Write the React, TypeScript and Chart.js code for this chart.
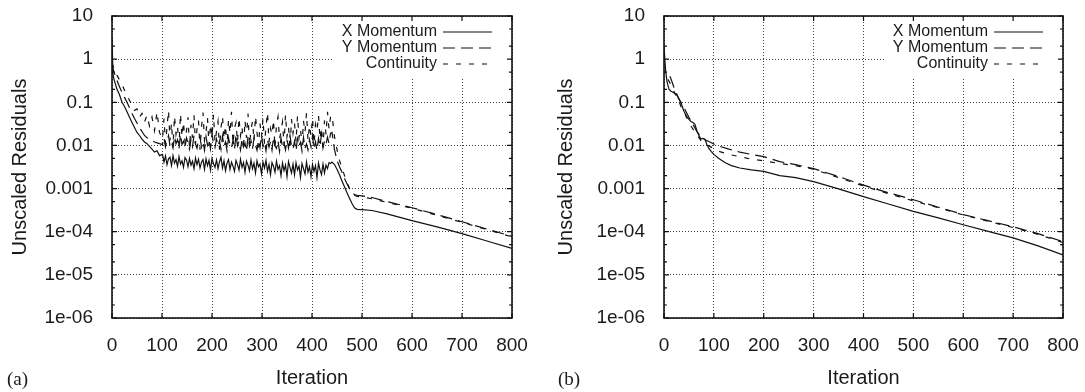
import React, { useEffect, useRef } from "react";
import { Chart, registerables } from "chart.js";

Chart.register(...registerables);

// ---------- axis definitions ----------
const xTickValues = [0, 100, 200, 300, 400, 500, 600, 700, 800];
const yTickValues = [1e-6, 1e-5, 1e-4, 1e-3, 1e-2, 1e-1, 1, 10];
const yTickLabels = ["1e-06", "1e-05", "1e-04", "0.001", "0.01", "0.1", "1", "10"];
const yMinorFactors = [2, 5];
const seriesNames = ["X Momentum", "Y Momentum", "Continuity"];
const xTitle = "Iteration";
const yTitle = "Unscaled Residuals";
const panelLabels = ["(a)", "(b)"];

// ---------- panel (a) data ----------
const iterA = [
  0, 2, 4, 7, 10, 15, 20, 25, 30, 35, 40, 45, 50, 55, 60, 65, 70, 75, 80, 85, 90, 95,
  101, 104, 107, 110, 113, 116, 119, 122, 125, 128,
  131, 134, 137, 140, 143, 146, 149, 152, 155, 158,
  161, 164, 167, 170, 173, 176, 179, 182, 185, 188,
  191, 194, 197, 200, 203, 206, 209, 212, 215, 218,
  221, 224, 227, 230, 233, 236, 239, 242, 245, 248,
  251, 254, 257, 260, 263, 266, 269, 272, 275, 278,
  281, 284, 287, 290, 293, 296, 299, 302, 305, 308,
  311, 314, 317, 320, 323, 326, 329, 332, 335, 338,
  341, 344, 347, 350, 353, 356, 359, 362, 365, 368,
  371, 374, 377, 380, 383, 386, 389, 392, 395, 398,
  401, 404, 407, 410, 413, 416, 419, 422, 425, 428,
  431, 434, 437, 440,
  445, 450, 455, 460, 465, 470, 475, 480, 485, 490, 500, 520, 550, 600, 650, 700, 750, 800,
];
const xMomA = [
  3.0, 0.45, 0.34, 0.26, 0.2, 0.15, 0.1, 0.08, 0.06, 0.045, 0.034, 0.026, 0.02, 0.017, 0.014, 0.012, 0.011, 0.0095, 0.0082, 0.007, 0.0075, 0.0058,
  0.0062, 0.0041, 0.0057, 0.0036, 0.0049, 0.0053, 0.0034, 0.0058, 0.0039, 0.0047,
  0.0033, 0.0055, 0.0037, 0.0044, 0.0031, 0.0052, 0.0046, 0.0032, 0.005, 0.0035,
  0.0043, 0.0029, 0.0051, 0.0036, 0.0048, 0.003, 0.0041, 0.0047, 0.0028, 0.0049,
  0.0034, 0.0045, 0.0027, 0.005, 0.0038, 0.0031, 0.0046, 0.0029, 0.0042, 0.0053,
  0.003, 0.0044, 0.0026, 0.0039, 0.0047, 0.0028, 0.0041, 0.0033, 0.0025, 0.0045,
  0.0036, 0.0027, 0.0048, 0.0031, 0.004, 0.0024, 0.0043, 0.0035, 0.0026, 0.0046,
  0.0029, 0.0039, 0.0023, 0.0044, 0.0032, 0.0037, 0.0022, 0.0041, 0.003, 0.0045,
  0.0025, 0.0036, 0.0021, 0.004, 0.0033, 0.0024, 0.0043, 0.0028, 0.0034, 0.002,
  0.0039, 0.0026, 0.0035, 0.0019, 0.0042, 0.0031, 0.0023, 0.0037, 0.0021, 0.004,
  0.0027, 0.0033, 0.0018, 0.0038, 0.0029, 0.0022, 0.0041, 0.0024, 0.0032, 0.0019,
  0.0036, 0.0025, 0.0034, 0.0018, 0.0039, 0.0027, 0.0021, 0.0037, 0.0023, 0.0035,
  0.0029, 0.004, 0.0038, 0.0041,
  0.0036, 0.0028, 0.0021, 0.0015, 0.0011, 0.0008, 0.0006, 0.00045, 0.00036, 0.00033, 0.000325, 0.00031, 0.00026, 0.00018, 0.00013, 0.00009, 0.000061, 0.000041,
];
const yMomA = [
  0.45, 0.6, 0.5, 0.4, 0.32, 0.23, 0.17, 0.13, 0.1, 0.075, 0.055, 0.042, 0.033, 0.026, 0.021, 0.017, 0.015, 0.014, 0.013, 0.012, 0.0115, 0.011,
  0.0105, 0.015, 0.0092, 0.013, 0.017, 0.0098, 0.012, 0.0088, 0.016, 0.011,
  0.0135, 0.0085, 0.018, 0.0105, 0.0125, 0.009, 0.015, 0.0115, 0.0082, 0.014,
  0.0095, 0.017, 0.0108, 0.0086, 0.013, 0.0155, 0.0092, 0.012, 0.0078, 0.016,
  0.0102, 0.0135, 0.0084, 0.019, 0.011, 0.0089, 0.014, 0.0098, 0.0125, 0.0082,
  0.0165, 0.0095, 0.012, 0.0076, 0.015, 0.0105, 0.0088, 0.0135, 0.0081, 0.018,
  0.0098, 0.0125, 0.0079, 0.014, 0.0092, 0.0112, 0.0074, 0.016, 0.0096, 0.0128,
  0.0083, 0.0145, 0.0101, 0.0077, 0.0132, 0.0089, 0.017, 0.0094, 0.0118, 0.0075,
  0.0138, 0.0091, 0.0122, 0.0078, 0.0155, 0.0097, 0.0085, 0.0128, 0.0073, 0.0148,
  0.0093, 0.0115, 0.0079, 0.0135, 0.0088, 0.0172, 0.0095, 0.0082, 0.0125, 0.0076,
  0.0142, 0.0098, 0.0118, 0.0074, 0.0152, 0.0087, 0.0108, 0.0079, 0.0136, 0.0092,
  0.0165, 0.0084, 0.0121, 0.0077, 0.0145, 0.0095, 0.0182, 0.0088, 0.0128, 0.0105,
  0.0155, 0.0112, 0.019, 0.02,
  0.008, 0.0045, 0.0032, 0.0024, 0.0017, 0.0013, 0.001, 0.0008, 0.00073, 0.0007, 0.00068, 0.00062, 0.0005, 0.00036, 0.00025, 0.00017, 0.000115, 0.000078,
];
const contA = [
  0.6, 0.7, 0.6, 0.5, 0.42, 0.33, 0.26, 0.19, 0.15, 0.11, 0.09, 0.065, 0.07, 0.045, 0.055, 0.035, 0.05, 0.028, 0.045, 0.022, 0.06, 0.02,
  0.014, 0.042, 0.011, 0.026, 0.065, 0.013, 0.033, 0.009, 0.048, 0.018,
  0.028, 0.01, 0.055, 0.016, 0.035, 0.012, 0.022, 0.045, 0.009, 0.03,
  0.015, 0.05, 0.011, 0.024, 0.038, 0.008, 0.027, 0.058, 0.013, 0.02,
  0.043, 0.01, 0.031, 0.016, 0.052, 0.012, 0.021, 0.036, 0.008, 0.026,
  0.047, 0.014, 0.029, 0.009, 0.04, 0.019, 0.06, 0.011, 0.025, 0.034,
  0.012, 0.044, 0.017, 0.028, 0.008, 0.038, 0.015, 0.055, 0.01, 0.023,
  0.036, 0.013, 0.048, 0.02, 0.009, 0.032, 0.016, 0.042, 0.011, 0.027,
  0.058, 0.012, 0.025, 0.018, 0.039, 0.009, 0.03, 0.046, 0.014, 0.021,
  0.035, 0.01, 0.052, 0.016, 0.027, 0.008, 0.041, 0.019, 0.033, 0.012,
  0.049, 0.015, 0.024, 0.01, 0.037, 0.02, 0.056, 0.013, 0.029, 0.017,
  0.043, 0.011, 0.031, 0.022, 0.05, 0.014, 0.026, 0.009, 0.038, 0.018,
  0.06, 0.024, 0.045, 0.05,
  0.016, 0.008, 0.0045, 0.003, 0.002, 0.0014, 0.001, 0.0008, 0.0007, 0.00066, 0.00064, 0.00058, 0.00048, 0.00035, 0.00024, 0.000165, 0.000112, 0.000076,
];

// ---------- panel (b) data ----------
const xIterB = [0, 3, 6, 10, 14, 18, 22, 26, 30, 35, 40, 45, 50, 54, 58, 62, 66, 70, 74, 78, 82, 86, 90, 95, 100, 110, 122, 135, 152, 175, 200, 232, 264, 300, 350, 400, 450, 500, 550, 600, 650, 700, 750, 800];
const xMomB = [2, 0.58, 0.3, 0.2, 0.18, 0.17, 0.16, 0.15, 0.12, 0.09, 0.062, 0.048, 0.04, 0.036, 0.034, 0.031, 0.022, 0.017, 0.014, 0.0145, 0.014, 0.0105, 0.0085, 0.0072, 0.0062, 0.005, 0.004, 0.0034, 0.003, 0.0027, 0.0025, 0.002, 0.0018, 0.00145, 0.00098, 0.00065, 0.00044, 0.000295, 0.00021, 0.000145, 0.000102, 0.000072, 0.000047, 0.000029];
const yIterB = [12, 16, 20, 24, 28, 34, 40, 45, 50, 55, 60, 67, 74, 82, 92, 102, 112, 130, 152, 175, 200, 232, 264, 300, 350, 400, 450, 500, 550, 600, 650, 700, 750, 800];
const yMomB = [0.4, 0.3, 0.22, 0.17, 0.13, 0.1, 0.075, 0.058, 0.045, 0.035, 0.028, 0.02, 0.016, 0.0135, 0.012, 0.0105, 0.0095, 0.0082, 0.007, 0.0062, 0.0055, 0.0042, 0.0036, 0.0029, 0.0019, 0.0012, 0.0008, 0.00055, 0.00037, 0.00025, 0.00018, 0.00013, 0.00009, 0.000059];
const cIterB = [8, 12, 16, 20, 24, 28, 34, 40, 45, 50, 55, 60, 67, 74, 82, 92, 102, 112, 130, 152, 175, 200, 232, 264, 300, 350, 400, 450, 500, 550, 600, 650, 700, 750, 800];
const contB = [0.34, 0.28, 0.22, 0.18, 0.14, 0.12, 0.08, 0.06, 0.045, 0.035, 0.027, 0.022, 0.017, 0.013, 0.011, 0.0095, 0.0082, 0.0072, 0.0062, 0.0055, 0.0048, 0.0044, 0.0038, 0.0034, 0.0028, 0.0018, 0.00115, 0.00076, 0.00052, 0.00036, 0.000245, 0.000175, 0.000125, 0.000087, 0.000056];

// ---------- styles ----------
const FONT = '"Liberation Sans", Arial, Helvetica, sans-serif';
const INK = "#1a1a1a";
const dashes = [[], [12, 6], [5, 8]];

const zip = (xs: number[], ys: number[]) => xs.map((x, i) => ({ x, y: ys[i] }));

const framePlugin = {
  id: "gnuplotFrame",
  afterDatasetsDraw(chart: any) {
    const { ctx, chartArea } = chart;
    const { left, top, right, bottom } = chartArea;
    const xs = chart.scales.x;
    const ys = chart.scales.y;
    ctx.save();
    // legend background
    ctx.fillStyle = "#fff";
    ctx.fillRect(right - 178, top + 1, 177, 62);
    // legend entries
    ctx.font = `16px ${FONT}`;
    ctx.textAlign = "right";
    ctx.textBaseline = "middle";
    chart.data.datasets.forEach((ds: any, i: number) => {
      const yy = top + 16 + i * 16;
      ctx.fillStyle = INK;
      ctx.fillText(ds.label, right - 75, yy);
      ctx.setLineDash(ds.borderDash || []);
      ctx.strokeStyle = "#111";
      ctx.lineWidth = 1.2;
      ctx.beginPath();
      ctx.moveTo(right - 69, yy);
      ctx.lineTo(right - 20, yy);
      ctx.stroke();
    });
    ctx.setLineDash([]);
    // frame
    ctx.strokeStyle = "#111";
    ctx.lineWidth = 1.6;
    ctx.strokeRect(left, top, right - left, bottom - top);
    // ticks
    ctx.lineWidth = 1.2;
    ctx.beginPath();
    xTickValues.forEach((v) => {
      const px = xs.getPixelForValue(v);
      ctx.moveTo(px, bottom);
      ctx.lineTo(px, bottom - 5);
      ctx.moveTo(px, top);
      ctx.lineTo(px, top + 5);
    });
    yTickValues.forEach((v, i) => {
      const py = ys.getPixelForValue(v);
      ctx.moveTo(left, py);
      ctx.lineTo(left + 5, py);
      ctx.moveTo(right, py);
      ctx.lineTo(right - 5, py);
      if (i < yTickValues.length - 1) {
        yMinorFactors.forEach((f) => {
          const pm = ys.getPixelForValue(v * f);
          ctx.moveTo(left, pm);
          ctx.lineTo(left + 3, pm);
          ctx.moveTo(right, pm);
          ctx.lineTo(right - 3, pm);
        });
      }
    });
    ctx.stroke();
    ctx.restore();
  },
};

type Series = { data: { x: number; y: number }[] }[];

const zeroPad = (s: any) => {
  s.paddingTop = 0;
  s.paddingBottom = 0;
  s.paddingLeft = 0;
  s.paddingRight = 0;
};

function ResidualChart({ left, width, rightPad, yTitlePad, series }: { left: number; width: number; rightPad: number; yTitlePad: number; series: Series }) {
  const ref = useRef<HTMLCanvasElement>(null);
  useEffect(() => {
    const chart = new Chart(ref.current as HTMLCanvasElement, {
      type: "line",
      data: {
        datasets: series.map((s, i) => ({
          label: seriesNames[i],
          data: s.data,
          borderColor: "#111",
          borderWidth: 1.2,
          borderDash: dashes[i],
          pointRadius: 0,
          tension: 0,
          fill: false,
        })),
      },
      options: {
        animation: false,
        responsive: false,
        layout: { padding: { left: 0, top: 16, right: rightPad, bottom: 0 } },
        plugins: { legend: { display: false }, tooltip: { enabled: false } },
        scales: {
          x: {
            type: "linear",
            min: 0,
            max: 800,
            afterBuildTicks: (s: any) => {
              s.ticks = xTickValues.map((v) => ({ value: v }));
            },
            afterFit: (s: any) => {
              s.height = 74;
              zeroPad(s);
            },
            ticks: { padding: 16, color: INK, font: { family: FONT, size: 19 }, maxRotation: 0, autoSkip: false },
            grid: { drawTicks: false, color: "rgba(0,0,0,0.75)", lineWidth: 1 },
            border: { display: false, dash: [1, 2] },
            title: { display: true, text: xTitle, color: INK, font: { family: FONT, size: 20 }, padding: { top: 0, bottom: 2 } },
          },
          y: {
            type: "logarithmic",
            min: 1e-6,
            max: 10,
            afterBuildTicks: (s: any) => {
              s.ticks = yTickValues.map((v) => ({ value: v }));
            },
            afterFit: (s: any) => {
              s.width = 112;
              zeroPad(s);
            },
            ticks: {
              padding: 19,
              color: INK,
              font: { family: FONT, size: 19 },
              autoSkip: false,
              callback: (_v: any, i: number) => yTickLabels[i],
            },
            grid: { drawTicks: false, color: "rgba(0,0,0,0.75)", lineWidth: 1 },
            border: { display: false, dash: [1, 2] },
            title: { display: true, text: yTitle, color: INK, font: { family: FONT, size: 20 }, padding: { top: yTitlePad, bottom: 0 } },
          },
        },
      },
      plugins: [framePlugin],
    } as any);
    return () => chart.destroy();
  }, []);
  return <canvas ref={ref} width={width} height={392} style={{ position: "absolute", left, top: 0, width, height: 392 }} />;
}

const seriesA: Series = [{ data: zip(iterA, xMomA) }, { data: zip(iterA, yMomA) }, { data: zip(iterA, contA) }];
const seriesB: Series = [{ data: zip(xIterB, xMomB) }, { data: zip(yIterB, yMomB) }, { data: zip(cIterB, contB) }];

const labelStyle: React.CSSProperties = {
  position: "absolute",
  top: 369,
  fontFamily: '"Liberation Serif", "Times New Roman", serif',
  fontSize: 19,
  lineHeight: "20px",
  color: INK,
};

export default function App() {
  return (
    <div style={{ position: "fixed", left: 0, top: 0, width: 1085, height: 392, background: "#fff", overflow: "hidden" }}>
      <ResidualChart left={0} width={540} rightPad={28} yTitlePad={8} series={seriesA} />
      <ResidualChart left={552} width={533} rightPad={22} yTitlePad={2} series={seriesB} />
      <div style={{ ...labelStyle, left: 7 }}>{panelLabels[0]}</div>
      <div style={{ ...labelStyle, left: 558 }}>{panelLabels[1]}</div>
    </div>
  );
}
